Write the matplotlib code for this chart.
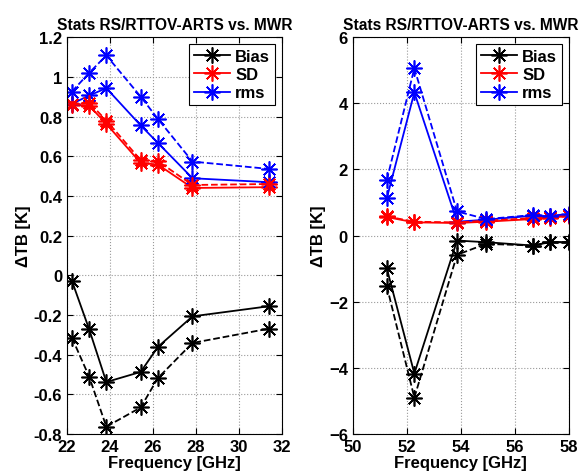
import numpy as np
import matplotlib.pyplot as plt

plt.rcParams['font.family'] = ['Liberation Sans', 'DejaVu Sans']
plt.rcParams['font.weight'] = 'bold'

# K-band channels
freqK = [22.235, 23.035, 23.835, 25.435, 26.235, 27.845, 31.4]
biasK_rt = [-0.029, -0.272, -0.538, -0.487, -0.361, -0.207, -0.156]
biasK_ar = [-0.315, -0.511, -0.763, -0.666, -0.518, -0.341, -0.269]
sdK_rt = [0.860, 0.855, 0.763, 0.566, 0.558, 0.440, 0.444]
sdK_ar = [0.865, 0.870, 0.780, 0.580, 0.575, 0.455, 0.460]
rmsK_rt = [0.864, 0.906, 0.943, 0.755, 0.667, 0.489, 0.469]
rmsK_ar = [0.926, 1.020, 1.108, 0.900, 0.788, 0.573, 0.536]

# V-band channels
freqV = [51.26, 52.28, 53.86, 54.94, 56.66, 57.30, 58.00]
biasV_rt = [-0.99, -4.17, -0.15, -0.20, -0.30, -0.20, -0.20]
biasV_ar = [-1.53, -4.90, -0.58, -0.25, -0.30, -0.20, -0.20]
sdV_rt = [0.56, 0.40, 0.38, 0.42, 0.50, 0.53, 0.60]
sdV_ar = [0.58, 0.42, 0.40, 0.45, 0.53, 0.56, 0.62]
rmsV_rt = [1.13, 4.33, 0.42, 0.48, 0.60, 0.58, 0.63]
rmsV_ar = [1.68, 5.06, 0.73, 0.50, 0.62, 0.60, 0.65]

ast = (8, 2, 0)   # asterisk like matlab '*'
ms = 11.5
mew = 1.2


def panel(ax, f, b1, b2, s1, s2, r1, r2):
    ax.plot(f, b1, '-', color='k', marker=ast, ms=ms, mew=mew, lw=1.3, label='Bias')
    ax.plot(f, s1, '-', color='r', marker=ast, ms=ms, mew=mew, lw=1.3, label='SD')
    ax.plot(f, r1, '-', color='b', marker=ast, ms=ms, mew=mew, lw=1.3, label='rms')
    ax.plot(f, b2, '--', color='k', marker=ast, ms=ms, mew=mew, lw=1.3)
    ax.plot(f, s2, '--', color='r', marker=ast, ms=ms, mew=mew, lw=1.3)
    ax.plot(f, r2, '--', color='b', marker=ast, ms=ms, mew=mew, lw=1.3)
    ax.grid(True, linestyle=':', color='#999999', lw=0.8)
    ax.set_xlabel('Frequency [GHz]', fontsize=12, fontweight='bold', labelpad=1)
    ax.set_ylabel('ΔTB [K]', fontsize=12, fontweight='bold', labelpad=2)
    ax.set_title('Stats RS/RTTOV-ARTS vs. MWR', fontsize=11.2, fontweight='bold', pad=6)
    ax.tick_params(labelsize=12, direction='in', length=4, top=True, right=True)
    leg = ax.legend(loc='upper right', fontsize=12, fancybox=False, framealpha=1,
                    edgecolor='k', handlelength=2.2, borderpad=0.3, labelspacing=0.2,
                    handletextpad=0.3, borderaxespad=0.4)
    leg.get_frame().set_linewidth(0.8)


fig = plt.figure(figsize=(5.87, 4.77), dpi=100)
ax1 = fig.add_axes([0.114, 0.088, 0.366, 0.832])
ax2 = fig.add_axes([0.601, 0.088, 0.368, 0.832])

panel(ax1, freqK, biasK_rt, biasK_ar, sdK_rt, sdK_ar, rmsK_rt, rmsK_ar)
ax1.set_xlim(22, 32)
ax1.set_ylim(-0.8, 1.2)
ax1.set_xticks(np.arange(22, 33, 2))
ax1.set_yticks(np.arange(-0.8, 1.21, 0.2))
ax1.set_yticklabels(['-0.8', '-0.6', '-0.4', '-0.2', '0', '0.2', '0.4', '0.6', '0.8', '1', '1.2'])

panel(ax2, freqV, biasV_rt, biasV_ar, sdV_rt, sdV_ar, rmsV_rt, rmsV_ar)
ax2.set_xlim(50, 58)
ax2.set_ylim(-6, 6)
ax2.set_xticks(np.arange(50, 59, 2))
ax2.set_yticks(np.arange(-6, 7, 2))

fig.savefig('out.png', dpi=100)
